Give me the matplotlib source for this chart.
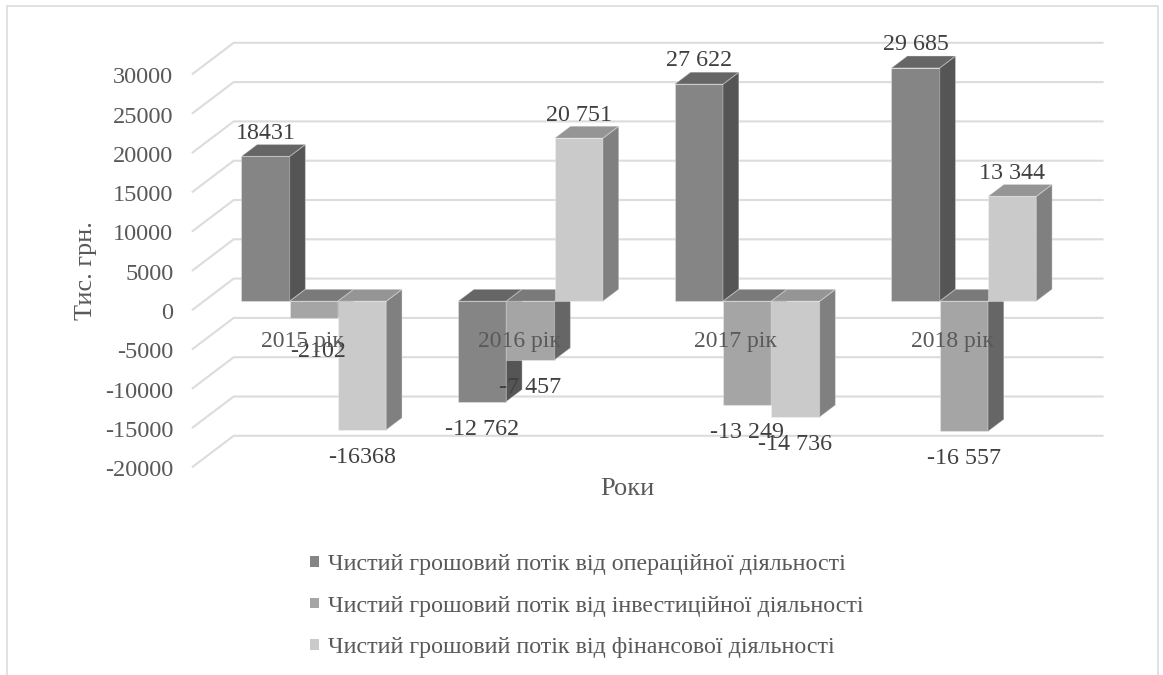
import matplotlib.pyplot as plt
from matplotlib.patches import Patch, Polygon, Rectangle
from matplotlib.transforms import ScaledTranslation

plt.rcParams['font.family'] = ['Liberation Serif', 'DejaVu Serif']
plt.rcParams['axes.unicode_minus'] = False

# -------------------------------------------------
# data
years = ['2015 рік', '2016 рік', '2017 рік', '2018 рік']
series_names = ['Чистий грошовий потік від операційної діяльності',
                'Чистий грошовий потік від інвестиційної діяльності',
                'Чистий грошовий потік від фінансової діяльності']

operating = [18431, -12762, 27622, 29685]
investing = [-2102, -7457, -13249, -16557]
financing = [-16368, 20751, -14736, 13344]

operating_labels = ['18431', '-12 762', '27 622', '29 685']
investing_labels = ['-2102', '-7 457', '-13 249', '-16 557']
financing_labels = ['-16368', '20 751', '-14 736', '13 344']

y_ticks = [30000, 25000, 20000, 15000, 10000, 5000, 0, -5000, -10000, -15000, -20000]

# front, side and top shades for each series
shades = [('#858585', '#555555', '#666666'),
          ('#a5a5a5', '#666666', '#7a7a7a'),
          ('#cacaca', '#808080', '#959595')]

GRID = '#dcdcdc'
TEXT = '#595959'
LABEL = '#404040'

# fake 3d: how far the back wall is shifted from the front of the floor
DEPTH_X = 0.1888
DEPTH_Y = 3944
BAR_FRONT = 0.268
BAR_BACK = 0.655
BAR_W = 0.2224
BAR_START = 0.173
GROUP_STEP = 0.9977


def project(x, v, z):
    return (x + z * DEPTH_X, v + z * DEPTH_Y)


def draw_bar(ax, left, value, colors):
    front, side, top = colors
    right = left + BAR_W
    edge = (1, 1, 1, 0.3)

    faces = [
        ([(left, 0, BAR_FRONT), (right, 0, BAR_FRONT), (right, value, BAR_FRONT), (left, value, BAR_FRONT)], front),
        ([(right, 0, BAR_FRONT), (right, 0, BAR_BACK), (right, value, BAR_BACK), (right, value, BAR_FRONT)], side),
    ]
    # the lid sits at the upper end of the bar, zero for negative values
    lid = max(value, 0)
    faces.append(([(left, lid, BAR_FRONT), (right, lid, BAR_FRONT), (right, lid, BAR_BACK), (left, lid, BAR_BACK)], top))

    for corners, color in faces:
        pts = [project(*c) for c in corners]
        ax.add_patch(Polygon(pts, closed=True, facecolor=color, edgecolor=edge,
                             linewidth=0.8, clip_on=False))


def main():
    fig = plt.figure(figsize=(11.63, 6.75), dpi=100)
    ax = fig.add_axes([192.7 / 1163, 1 - 466.8 / 675, 868.8 / 1163, 393 / 675])

    # outer frame, runs off the bottom edge
    fig.add_artist(Rectangle((7 / 1163, -0.05), 1151 / 1163, 1.05 - 6 / 675, transform=fig.transFigure,
                             facecolor='none', edgecolor=GRID, linewidth=1.2))

    # gridlines: short diagonal on the left wall, then along the back wall
    for v in y_ticks:
        start = project(0, v, 0)
        corner = project(0, v, 1)
        end = project(4, v, 1)
        ax.plot([start[0], corner[0], end[0]], [start[1], corner[1], end[1]],
                color=GRID, linewidth=1.5, clip_on=False, zorder=0.5)

    all_series = [operating, investing, financing]
    all_labels = [operating_labels, investing_labels, financing_labels]

    # small shift for the one label that was pushed off its bar
    nudges = {(0, 1): (0.018, -800)}

    for i in range(len(years)):
        for j, values in enumerate(all_series):
            left = i * GROUP_STEP + BAR_START + j * BAR_W
            draw_bar(ax, left, values[i], shades[j])

    for i in range(len(years)):
        for j, values in enumerate(all_series):
            left = i * GROUP_STEP + BAR_START + j * BAR_W
            value = values[i]
            offset = 2950 if value > 0 else -3500
            cx, cy = project(left + BAR_W / 2, value + offset, BAR_FRONT)
            nx, ny = nudges.get((i, j), (0, 0))
            ax.text(cx + nx, cy + ny, all_labels[j][i], ha='center', va='center',
                    fontsize=17.3, color=LABEL, zorder=5)

    for i, year in enumerate(years):
        ax.text(i * GROUP_STEP + 0.505, -4020, year, ha='center', va='center',
                fontsize=17, color=TEXT, zorder=6)

    ax.set_xlim(0, 4)
    ax.set_ylim(-20000, 30000)
    ax.set_xticks([])
    ax.set_yticks(y_ticks)
    ax.tick_params(axis='y', length=0, pad=14, labelsize=17.5, labelcolor=TEXT)
    # numbers sit a little below their gridline starts
    shift = ScaledTranslation(0, -1.5 / 100, fig.dpi_scale_trans)
    for tick_label in ax.get_yticklabels():
        tick_label.set_transform(tick_label.get_transform() + shift)
    for spine in ax.spines.values():
        spine.set_visible(False)
    ax.patch.set_visible(False)

    ax.set_ylabel('Тис. грн.', fontsize=18.8, color=TEXT, labelpad=6)
    ax.set_xlabel('Роки', fontsize=19, color=TEXT, labelpad=8)

    handles = [Patch(facecolor=s[0], edgecolor='none') for s in shades]
    ax.legend(handles, series_names, loc='upper left', frameon=False,
              bbox_to_anchor=(310 / 1163, 1 - 554 / 675), bbox_transform=fig.transFigure,
              fontsize=17.3, labelcolor=TEXT, labelspacing=0.86,
              handlelength=0.37, handleheight=0.3, handletextpad=0.37,
              borderpad=0, borderaxespad=0)

    fig.savefig('out.png', dpi=100)


main()
